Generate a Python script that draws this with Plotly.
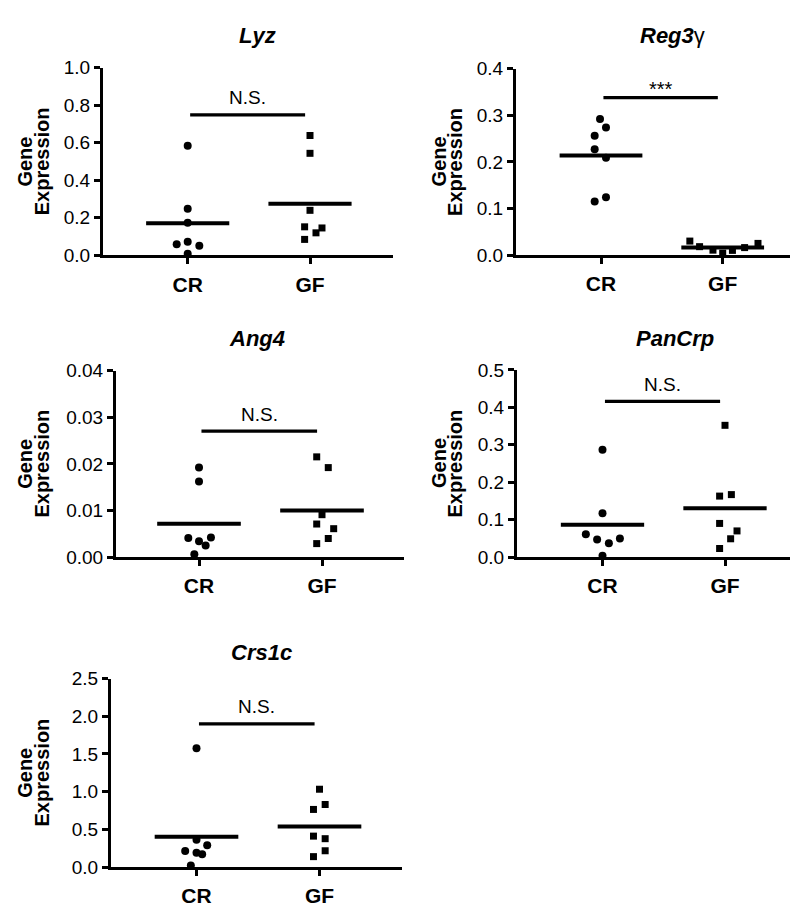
import plotly.graph_objects as go

PAGE_W, PAGE_H = 798, 909
OFF = 8                      # default page margin around the plot div
W, H = PAGE_W - OFF, PAGE_H - OFF
FONT = "Liberation Sans, Arial, Helvetica, sans-serif"

# ---------------- data ----------------
groups = ["CR", "GF"]
genes = ["Lyz", "Reg3γ", "Ang4", "PanCrp", "Crs1c"]

lyz_cr = [0.584, 0.249, 0.174, 0.073, 0.059, 0.051, 0.009]
lyz_gf = [0.639, 0.544, 0.240, 0.152, 0.146, 0.120, 0.085]
reg3g_cr = [0.292, 0.274, 0.256, 0.227, 0.209, 0.124, 0.115]
reg3g_gf = [0.030, 0.018, 0.0105, 0.004, 0.010, 0.016, 0.025]
ang4_cr = [0.0192, 0.0162, 0.0041, 0.0034, 0.0025, 0.0042, 0.0006]
ang4_gf = [0.0215, 0.0192, 0.0091, 0.0071, 0.0061, 0.0040, 0.0029]
pancrp_cr = [0.287, 0.117, 0.061, 0.047, 0.037, 0.050, 0.004]
pancrp_gf = [0.352, 0.163, 0.167, 0.090, 0.070, 0.049, 0.023]
crs1c_cr = [1.576, 0.363, 0.289, 0.212, 0.190, 0.168, 0.022]
crs1c_gf = [1.032, 0.829, 0.764, 0.410, 0.376, 0.216, 0.138]

# horizontal spread of the dots around each group (category units)
lyz_cr_dx = [0, 0, 0, 0, -0.09, 0.095, 0]
lyz_gf_dx = [0, 0, 0, -0.044, 0.098, 0.049, -0.044]
reg3g_cr_dx = [-0.008, 0.041, -0.052, -0.052, 0.041, 0.041, -0.052]
reg3g_gf_dx = [-0.27, -0.19, -0.08, 0, 0.08, 0.18, 0.29]
ang4_cr_dx = [0, 0, -0.087, 0, 0.054, 0.097, -0.038]
ang4_gf_dx = [-0.043, 0.051, 0, -0.043, 0.095, 0.051, -0.043]
pancrp_cr_dx = [0, 0, -0.136, -0.044, 0.052, 0.142, 0]
pancrp_gf_dx = [0, -0.044, 0.052, -0.044, 0.098, 0.046, -0.044]
crs1c_cr_dx = [0, 0, 0.087, -0.092, 0, 0.046, -0.046]
crs1c_gf_dx = [0, 0.046, -0.049, -0.049, 0.046, 0.046, -0.049]

sig_labels = ["N.S.", "***", "N.S.", "N.S.", "N.S."]
sig_heights = [0.749, 0.338, 0.027, 0.416, 1.90]
y_max = [1.0, 0.4, 0.04, 0.5, 2.5]
y_step = [0.2, 0.1, 0.01, 0.1, 0.5]
y_fmt = [".1f", ".1f", ".2f", ".1f", ".1f"]

cr_vals = [lyz_cr, reg3g_cr, ang4_cr, pancrp_cr, crs1c_cr]
gf_vals = [lyz_gf, reg3g_gf, ang4_gf, pancrp_gf, crs1c_gf]
cr_dx = [lyz_cr_dx, reg3g_cr_dx, ang4_cr_dx, pancrp_cr_dx, crs1c_cr_dx]
gf_dx = [lyz_gf_dx, reg3g_gf_dx, ang4_gf_dx, pancrp_gf_dx, crs1c_gf_dx]

# ---------------- layout geometry (page pixels) ----------------
panels_px = [
    dict(l=103, r=393, t=59, b=251, cr=187.7, gf=310.0, tx=257, ty=25.6, gx=25, ex=41.7),
    dict(l=516, r=798, t=60, b=250.7, cr=601, gf=722.7, tx=672, ty=25.6, gx=438.5, ex=455),
    dict(l=116, r=404, t=369, b=560, cr=199, gf=322, tx=257, ty=336, gx=25, ex=41.7),
    dict(l=517, r=798, t=368.3, b=560, cr=602.5, gf=725, tx=675, ty=336, gx=438.5, ex=455),
    dict(l=111, r=402, t=684.3, b=877.3, cr=196.5, gf=319.5, tx=261, ty=657.6, gx=25, ex=41.7),
]


def px_x(v):
    return (v - OFF) / W


def px_y(v):
    return 1 - (v - OFF) / H


MEAN_HALF = 0.34
SIG_X0, SIG_X1 = 0.02, 0.96

fig = go.Figure()
annotations = []
layout_axes = {}

for i, p in enumerate(panels_px):
    n = i + 1
    xa = "x" if n == 1 else f"x{n}"
    ya = "y" if n == 1 else f"y{n}"
    s = p["gf"] - p["cr"]

    # points
    fig.add_trace(go.Scatter(
        x=[0 + d for d in cr_dx[i]], y=cr_vals[i], mode="markers",
        marker=dict(symbol="circle", size=8, color="black"),
        xaxis=xa, yaxis=ya, cliponaxis=False, showlegend=False))
    fig.add_trace(go.Scatter(
        x=[1 + d for d in gf_dx[i]], y=gf_vals[i], mode="markers",
        marker=dict(symbol="square", size=7, color="black"),
        xaxis=xa, yaxis=ya, cliponaxis=False, showlegend=False))

    # mean lines
    for g, vals in enumerate([cr_vals[i], gf_vals[i]]):
        m = sum(vals) / len(vals)
        fig.add_trace(go.Scatter(
            x=[g - MEAN_HALF, g + MEAN_HALF], y=[m, m], mode="lines",
            line=dict(color="black", width=4),
            xaxis=xa, yaxis=ya, cliponaxis=False, showlegend=False))

    # significance bracket
    fig.add_trace(go.Scatter(
        x=[SIG_X0, SIG_X1], y=[sig_heights[i], sig_heights[i]], mode="lines",
        line=dict(color="black", width=3.3),
        xaxis=xa, yaxis=ya, cliponaxis=False, showlegend=False))
    is_star = sig_labels[i] == "***"
    annotations.append(dict(
        x=(SIG_X0 + SIG_X1) / 2, y=sig_heights[i], xref=xa, yref=ya,
        text=sig_labels[i], showarrow=False, xanchor="center", yanchor="middle",
        yshift=9 if is_star else 17,
        font=dict(family=FONT, size=20 if is_star else 19, color="black")))

    # axes
    nt = int(round(y_max[i] / y_step[i]))
    tickvals = [k * y_step[i] for k in range(nt + 1)]
    layout_axes["xaxis" if n == 1 else f"xaxis{n}"] = dict(
        domain=[px_x(p["l"]), min(1.0, px_x(p["r"]))],
        range=[(p["l"] - p["cr"]) / s, (p["r"] - p["cr"]) / s],
        anchor=ya, tickmode="array", tickvals=[0, 1], ticktext=groups,
        showline=True, linewidth=3, linecolor="black",
        ticks="outside", ticklen=6, tickwidth=3, tickcolor="black",
        ticklabelstandoff=2,
        showgrid=False, zeroline=False,
        tickfont=dict(family=FONT, size=21, color="black", weight="bold"))
    layout_axes["yaxis" if n == 1 else f"yaxis{n}"] = dict(
        domain=[px_y(p["b"]), px_y(p["t"])],
        range=[0, y_max[i]], anchor=xa,
        tickmode="array", tickvals=tickvals, tickformat=y_fmt[i],
        showline=True, linewidth=3, linecolor="black",
        ticks="outside", ticklen=6, tickwidth=3, tickcolor="black",
        showgrid=False, zeroline=False,
        tickfont=dict(family=FONT, size=19, color="black"))

    # panel title
    if genes[i] == "Reg3γ":
        ttxt = "<b><i>Reg3</i></b>γ"
    else:
        ttxt = f"<b><i>{genes[i]}</i></b>"
    annotations.append(dict(
        x=px_x(p["tx"]), y=px_y(p["ty"]), xref="paper", yref="paper",
        text=ttxt, showarrow=False, xanchor="center", yanchor="middle",
        font=dict(family=FONT, size=22, color="black")))

    # y-axis title (two lines)
    yc = px_y((p["t"] + p["b"]) / 2)
    for word, xx in (("Gene", p["gx"]), ("Expression", p["ex"])):
        annotations.append(dict(
            x=px_x(xx), y=yc, xref="paper", yref="paper", text=f"<b>{word}</b>",
            textangle=-90, showarrow=False, xanchor="center", yanchor="middle",
            font=dict(family=FONT, size=20, color="black")))

fig.update_layout(
    width=W, height=H,
    margin=dict(l=0, r=0, t=0, b=0),
    paper_bgcolor="white", plot_bgcolor="white",
    showlegend=False, annotations=annotations,
    font=dict(family=FONT, color="black"),
    **layout_axes)

fig.write_html("out.html")
